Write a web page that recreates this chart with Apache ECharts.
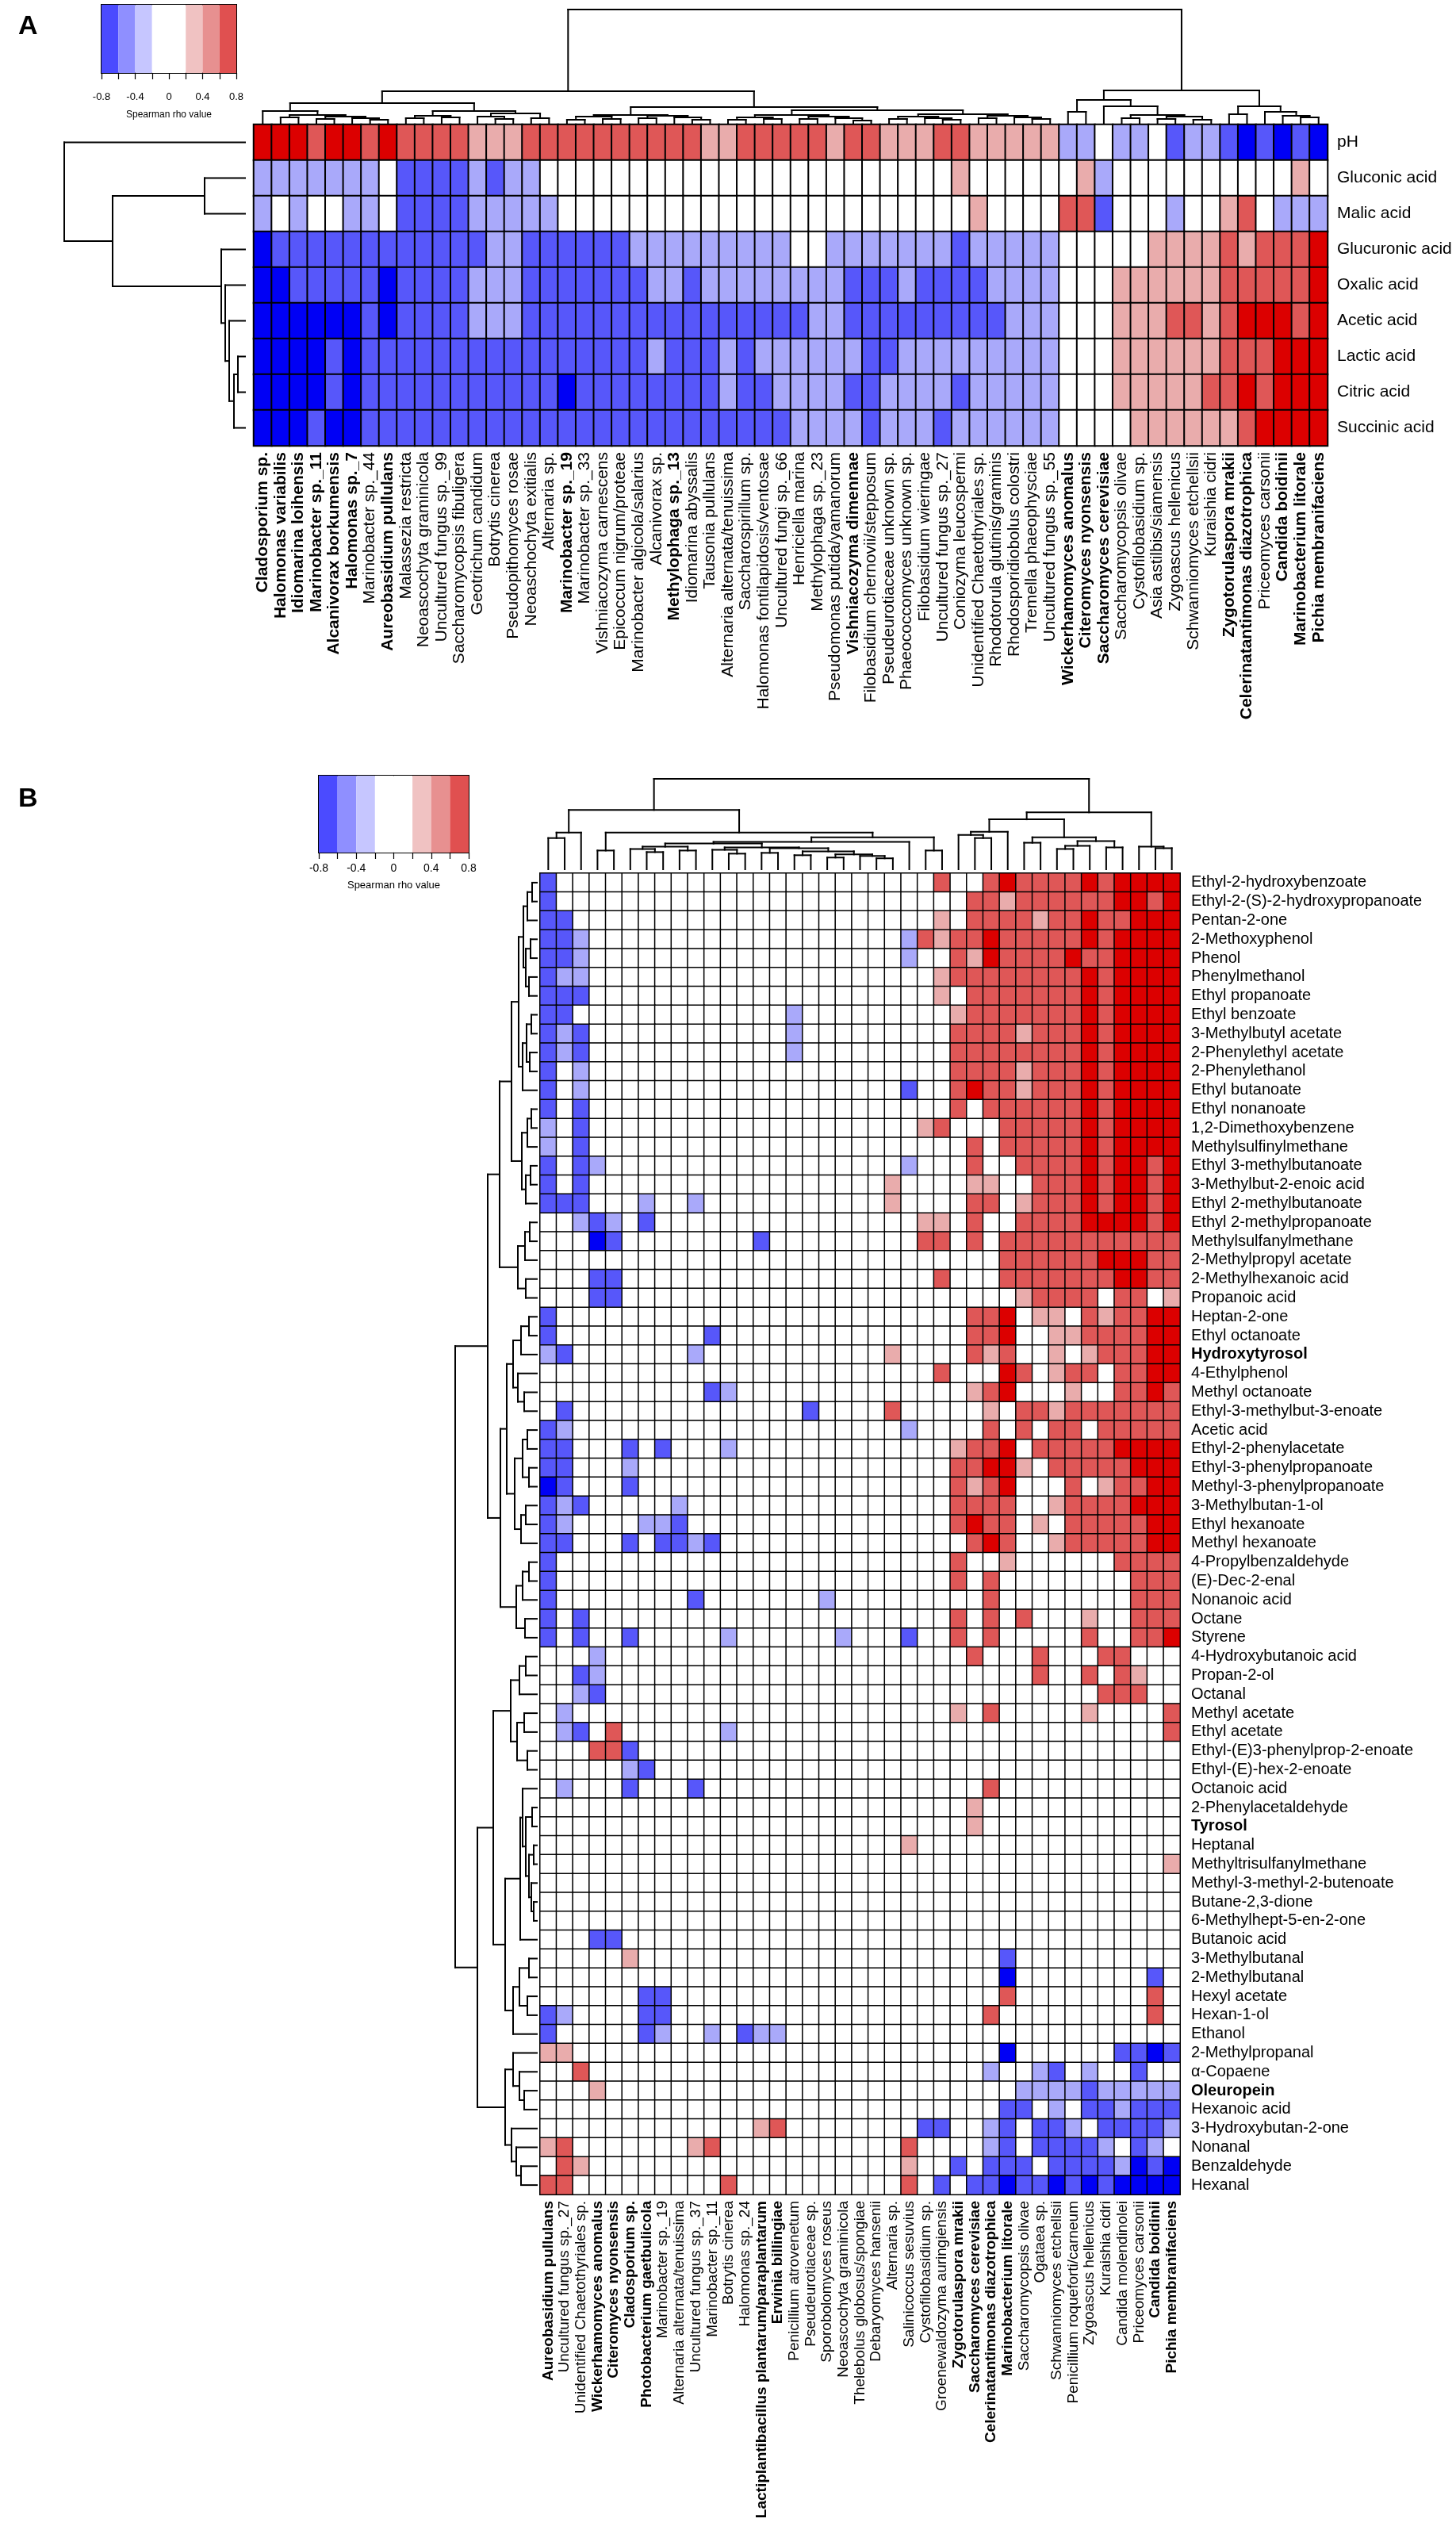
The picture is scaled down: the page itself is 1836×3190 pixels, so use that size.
<!DOCTYPE html>
<html>
<head>
<meta charset="utf-8">
<title>Spearman correlation heatmaps</title>
<script src="https://cdn.jsdelivr.net/npm/echarts@6/dist/echarts.min.js"></script>
<style>
  html, body { margin: 0; padding: 0; background: #fff; }
  #chart { width: 1836px; height: 3190px; }
</style>
</head>
<body>
<div id="chart"></div>
<script>
const FONT = 'Liberation Sans, Arial, Helvetica, sans-serif';

// --- Panel A: species (columns) x organic acids / pH (rows) ---
const speciesA = ['Cladosporium sp.', 'Halomonas variabilis', 'Idiomarina loihensis', 'Marinobacter sp._11', 'Alcanivorax borkumensis', 'Halomonas sp._7', 'Marinobacter sp._44', 'Aureobasidium pullulans', 'Malassezia restricta', 'Neoascochyta graminicola', 'Uncultured fungus sp._99', 'Saccharomycopsis fibuligera', 'Geotrichum candidum', 'Botrytis cinerea', 'Pseudopithomyces rosae', 'Neoaschochyta exitialis', 'Alternaria sp.', 'Marinobacter sp._19', 'Marinobacter sp._33', 'Vishniacozyma carnescens', 'Epicoccum nigrum/proteae', 'Marinobacter algicola/salarius', 'Alcanivorax sp.', 'Methylophaga sp._13', 'Idiomarina abyssalis', 'Tausonia pullulans', 'Alternaria alternata/tenuissima', 'Saccharospirillum sp.', 'Halomonas fontilapidosis/ventosae', 'Uncultured fungi sp._66', 'Henriciella marina', 'Methylophaga sp._23', 'Pseudomonas putida/yamanorum', 'Vishniacozyma dimennae', 'Filobasidium chernovii/stepposum', 'Pseudeurotiaceae unknown sp.', 'Phaeococcomyces unknown sp.', 'Filobasidium wieringae', 'Uncultured fungus sp._27', 'Coniozyma leucospermi', 'Unidentified Chaetothyriales sp.', 'Rhodotorula glutinis/graminis', 'Rhodosporidiobolus colostri', 'Tremella phaeophysciae', 'Uncultured fungus sp._55', 'Wickerhamomyces anomalus', 'Citeromyces nyonsensis', 'Saccharomyces cerevisiae', 'Saccharomycopsis olivae', 'Cystofilobasidium sp.', 'Asia astilbis/siamensis', 'Zygoascus hellenicus', 'Schwanniomyces etchellsii', 'Kuraishia cidri', 'Zygotorulaspora mrakii', 'Celerinatantimonas diazotrophica', 'Priceomyces carsonii', 'Candida boidinii', 'Marinobacterium litorale', 'Pichia membranifaciens'];
const boldA = ['Cladosporium sp.', 'Halomonas variabilis', 'Idiomarina loihensis', 'Marinobacter sp._11', 'Alcanivorax borkumensis', 'Halomonas sp._7', 'Aureobasidium pullulans', 'Marinobacter sp._19', 'Methylophaga sp._13', 'Vishniacozyma dimennae', 'Wickerhamomyces anomalus', 'Citeromyces nyonsensis', 'Saccharomyces cerevisiae', 'Zygotorulaspora mrakii', 'Celerinatantimonas diazotrophica', 'Candida boidinii', 'Marinobacterium litorale', 'Pichia membranifaciens'];
const acidsA = ['pH', 'Gluconic acid', 'Malic acid', 'Glucuronic acid', 'Oxalic acid', 'Acetic acid', 'Lactic acid', 'Citric acid', 'Succinic acid'];

// rho classes (groups of 10 columns)
const rhoLevels = { 'D': -0.7, 'B': -0.5, 'L': -0.3, '.': 0, 'p': 0.3, 'r': 0.5, 'R': 0.7 };
const rhoA = [
  'RRRrRRrRrr rrppprrrrr rrrrrpprrr rrprrppprr pppppLL.LL .BLLBDBDBD',
  'LLLLLLL.BB BBLBLL.... .......... .........p ......pL.. ........p.',
  'L.L..LL.BB BBLLLLL... .......... .......... p....rrB.. .L..pr.LLL',
  'DBBBBBBBBB BBBLLBBBBB BLLLLLLLLL ..LLLLLLLB LLLLL..... pppprprrrR',
  'DDBBBBBDBB BBLLLBBBBB BBLLBLLLLL LLLBBBLBBB BLLLL...pp pppprrrrrR',
  'DDDDDDBDBB BBLLLBBBBB BBBBBBBBBB BLLBBBBBBB BBLLL...pp prrprRRRrR',
  'DDDDBDBBBB BBBBBBBBBB BBLBBBLBLL LLLLBBLLLL LLLLL...pp pppprrrRRR',
  'DDDDBDBBBB BBBBBBBDBB BBBBBBLBBL LLLBBLLLLB LLLLL...pp ppprrRrRRR',
  'DDDBDDBBBB BBBBBBBBBB BBBBBBBBBB LLLLBLLLBL LLLLL....p ppppprRRRR'
];

// dendrograms: [height, left, right], leaves are indices
const treeColsA = [143,
  [40,
    [25,
      [15, 0, [10, [7, 1, 2], [8, [5, 3, 4], [6, 5, [4, 6, 7]]]]],
      [15, [9, [6, 8, 9], [7, 10, 11]], [12, [8, 12, [5, 13, 14]], [6, 15, 16]]]],
    [20,
      [10, [8, [4, 17, 18], [5, 19, 20]], [9, [6, 21, 22], [7, 23, [4, 24, 25]]]],
      [16,
        [10, [7, [4, 26, 27], [5, 28, 29]], [8, [5, 30, 31], [6, 32, [3, 33, 34]]]],
        [11, [8, [5, 35, 36], [6, 37, [4, 38, 39]]], [9, [6, 40, 41], [7, 42, [5, 43, 44]]]]]]],
  [41,
    [29, [14, 45, 46], [21, 47, [10, [6, 48, 49], [8, [5, 50, 51], [4, 52, 53]]]]],
    [21, [11, 54, 55], [14, 56, [9, 57, [7, 58, 59]]]]]];
const treeRowsA = [228, 0, [167, [51, 1, 2], [30, 3, [25, 4, [20, 5, [14, [9, 6, 7], 8]]]]]];

// --- Panel B: species (columns) x volatile compounds (rows) ---
const speciesB = ['Aureobasidium pullulans', 'Uncultured fungus sp._27', 'Unidentified Chaetothyriales sp.', 'Wickerhamomyces anomalus', 'Citeromyces nyonsensis', 'Cladosporium sp.', 'Photobacterium gaetbulicola', 'Marinobacter sp._19', 'Alternaria alternata/tenuissima', 'Uncultured fungus sp._37', 'Marinobacter sp._11', 'Botrytis cinerea', 'Halomonas sp._24', 'Lactiplantibacillus plantarum/paraplantarum', 'Erwinia billingiae', 'Penicillium atrovenetum', 'Pseudeurotiaceae sp.', 'Sporobolomyces roseus', 'Neoascochyta graminicola', 'Thelebolus globosus/spongiae', 'Debaryomyces hansenii', 'Alternaria sp.', 'Salinicoccus sesuvius', 'Cystofilobasidium sp.', 'Groenewaldozyma auringiensis', 'Zygotorulaspora mrakii', 'Saccharomyces cerevisiae', 'Celerinatantimonas diazotrophica', 'Marinobacterium litorale', 'Saccharomycopsis olivae', 'Ogataea sp.', 'Schwanniomyces etchellsii', 'Penicillium roqueforti/carneum', 'Zygoascus hellenicus', 'Kuraishia cidri', 'Candida molendinolei', 'Priceomyces carsonii', 'Candida boidinii', 'Pichia membranifaciens'];
const boldB = ['Aureobasidium pullulans', 'Wickerhamomyces anomalus', 'Citeromyces nyonsensis', 'Cladosporium sp.', 'Photobacterium gaetbulicola', 'Lactiplantibacillus plantarum/paraplantarum', 'Erwinia billingiae', 'Zygotorulaspora mrakii', 'Saccharomyces cerevisiae', 'Celerinatantimonas diazotrophica', 'Marinobacterium litorale', 'Candida boidinii', 'Pichia membranifaciens'];
const compoundsB = ['Ethyl-2-hydroxybenzoate', 'Ethyl-2-(S)-2-hydroxypropanoate', 'Pentan-2-one', '2-Methoxyphenol', 'Phenol', 'Phenylmethanol', 'Ethyl propanoate', 'Ethyl benzoate', '3-Methylbutyl acetate', '2-Phenylethyl acetate', '2-Phenylethanol', 'Ethyl butanoate', 'Ethyl nonanoate', '1,2-Dimethoxybenzene', 'Methylsulfinylmethane', 'Ethyl 3-methylbutanoate', '3-Methylbut-2-enoic acid', 'Ethyl 2-methylbutanoate', 'Ethyl 2-methylpropanoate', 'Methylsulfanylmethane', '2-Methylpropyl acetate', '2-Methylhexanoic acid', 'Propanoic acid', 'Heptan-2-one', 'Ethyl octanoate', 'Hydroxytyrosol', '4-Ethylphenol', 'Methyl octanoate', 'Ethyl-3-methylbut-3-enoate', 'Acetic acid', 'Ethyl-2-phenylacetate', 'Ethyl-3-phenylpropanoate', 'Methyl-3-phenylpropanoate', '3-Methylbutan-1-ol', 'Ethyl hexanoate', 'Methyl hexanoate', '4-Propylbenzaldehyde', '(E)-Dec-2-enal', 'Nonanoic acid', 'Octane', 'Styrene', '4-Hydroxybutanoic acid', 'Propan-2-ol', 'Octanal', 'Methyl acetate', 'Ethyl acetate', 'Ethyl-(E)3-phenylprop-2-enoate', 'Ethyl-(E)-hex-2-enoate', 'Octanoic acid', '2-Phenylacetaldehyde', 'Tyrosol', 'Heptanal', 'Methyltrisulfanylmethane', 'Methyl-3-methyl-2-butenoate', 'Butane-2,3-dione', '6-Methylhept-5-en-2-one', 'Butanoic acid', '3-Methylbutanal', '2-Methylbutanal', 'Hexyl acetate', 'Hexan-1-ol', 'Ethanol', '2-Methylpropanal', 'α-Copaene', 'Oleuropein', 'Hexanoic acid', '3-Hydroxybutan-2-one', 'Nonanal', 'Benzaldehyde', 'Hexanal'];
const boldCompounds = ['Hydroxytyrosol', 'Tyrosol', 'Oleuropein'];

const rhoB = [
  'B......... .......... ....r..rRr rrrRrRRRR',
  'B......... .......... ......rrpr rrrrrRRrR',
  'BB........ .......... ....p.rrrr prrRrrRRR',
  'BBL....... .......... ..LrprrRrr rrrRrRRRR',
  'BBL....... .......... ..L..rpRrr rrRrrRRRR',
  'BLL....... .......... ....prrrrr rrrRrRRRR',
  'BBB....... .......... ....p.rrrr rrrRrRRRR',
  'BB........ .....L.... .....prrrr rrrRrRRRR',
  'BLB....... .....L.... .....rrrrp rrrRrRRRR',
  'BLB....... .....L.... .....rrrrr rrrRrRRRR',
  'B.L....... .......... .....rrrrp rrrRrRRRR',
  'B.L....... .......... ..B..rRrrp rrrRrRRRR',
  'B.B....... .......... .....r.rrr rrrRrRRRR',
  'L.B....... .......... ...pr...rr rrrRrRRRR',
  'L.B....... .......... ......r.rr rrrRrRRRR',
  'B.BL...... .......... ..L...r..r rrrRrRRrR',
  'B.B....... .......... .p....pp.. rrrRrRRrR',
  'BBB...L..L .......... .p....rr.p rrrRrRRrR',
  '..LBL.B... .......... ...pp.r..r rrrRRRRrR',
  '...DB..... ...B...... ...rr.r.rr rrrrrrrrr',
  '.......... .......... ........rr rrrrRRRrr',
  '...BB..... .......... ....r...rr rrrrrRRrr',
  '...BB..... .......... .........p rrrr.rr.p',
  'B......... .......... ......rrR. pp.rprrRR',
  'B......... B......... ......rrR. .pprrrrRR',
  'LB.......L .......... .p....rpr. .p.prrrRR',
  '.......... .......... ....r...Rr .prr.rrRR',
  '.......... BL........ ......prR. ..p..rrRr',
  '.B........ ......B... .r.....p.r rprrrrrrr',
  'BL........ .......... ..L....r.r .rr.rrrrr',
  'BB...B.B.. .L........ .....prrR. rrrrrRRRR',
  'BB...L.... .......... .....rrRRp .rrrrrRRR',
  'DB...B.... .......... .....rprR. ..r.prrRR',
  'BLB.....L. .......... .....rrrr. .prrrrRRR',
  'BL....LLB. .......... .....rRrr. p.rrrrrRR',
  'BB...B.BBL B......... ......rRr. .prrrrrRR',
  'B......... .......... .....r..p. .....rrrr',
  'B......... .......... .....r.r.. ......rrr',
  'B........B .......L.. .......r.. ......rrr',
  'B.B....... .......... .....r.r.r ...p..rrr',
  'B.B..B.... .L......L. ..B..r.r.. ...r..rrR',
  '...L...... .......... ......r... r...rr...',
  '..BL...... .......... .......... r..r.rp..',
  '..LB...... .......... .......... ....rrr..',
  '.L........ .......... .....p.r.. ...p....r',
  '.LB.r..... .L........ .......... ........r',
  '...rrB.... .......... .......... .........',
  '.....LB... .......... .......... .........',
  '.L...B...B .......... .......r.. .........',
  '.......... .......... ......p... .........',
  '.......... .......... ......p... .........',
  '.......... .......... ..p....... .........',
  '.......... .......... .......... ........p',
  '.......... .......... .......... .........',
  '.......... .......... .......... .........',
  '.......... .......... .......... .........',
  '...BB..... .......... .......... .........',
  '.....p.... .......... ........B. .........',
  '.......... .......... ........D. .......B.',
  '......BB.. .......... ........r. .......r.',
  'BL....BB.. .......... .......r.. .......r.',
  'B.....BL.. L.BLL..... .......... .........',
  'pp........ .......... ........D. .....BBDB',
  '..r....... .......... .......L.. LB.L..B..',
  '...p...... .......... .........L LLLBLLLLL',
  '.......... .......... ........BB .L.BBLBBB',
  '.......... ...pr..... ...BB..LB. BBL.BBBBL',
  'pr.......p r......... ..r....LB. BBBBL.BL.',
  '.rp....... .......... ..p..B.BBB .BBBBLDBD',
  'rr........ .r........ ..r.B.BBDB BDBDBDDDD'
];

const treeColsB = [116,
  [76,
    [47, [40, 0, 1], 2],
    [47, [24, 3, 4],
      [41,
        [35,
          [33,
            [29, [26, 5, [22, 6, 7]], [24, 8, 9]],
            [28, [25, 10, [20, 11, 12]], [27, [21, 13, 14], [23, [18, 15, 16], [19, [15, 17, 18], [17, 19, [14, 20, 21]]]]]]],
          22],
        [24, 23, 24]]]],
  [73,
    [64,
      [48, [44, 25, [40, 26, 27]], 28],
      [41, [34, 29, 30], [36, [30, [26, 31, 32], 33], [28, 34, 35]]]],
    [29, 36, [27, 37, 38]]]];

const treeRowsB = [103,
  [62,
    [47,
      [32,
        [23, [17, [12, [6, 0, 1], 2], [14, [8, 3, 4], [10, 5, 6]]], [18, [13, [7, 7, 8], [9, 9, 10]], 11]],
        [19, [12, [7, 12, 13], 14], [14, [8, 15, 16], 17]]],
      [24, [15, [9, 18, 19], 20], [14, 21, 22]]],
    [46,
      [38,
        [30, [20, [10, 23, 24], 25], [24, 26, [16, 27, 28]]],
        [28, [18, [12, 29, 30], [10, 31, 32]], [20, [14, 33, 34], 35]]],
      [26, [18, [10, 36, 37], 38], [15, 39, 40]]]],
  [75,
    [55,
      [33, [22, [14, 41, 42], 43], [25, [16, 44, 45], [12, 46, 47]]],
      [40,
        [21, [18, 48, [14, [6, 49, 50], [10, [4, 51, 52], [7, 53, [4, 54, 55]]]]], 56],
        [30, [22, [10, 57, 58], [12, 59, 60]], 61]]],
    [40, [30, 62, [22, 63, [16, 64, 65]]], [32, 66, [26, 67, [20, 68, 69]]]]]];

// --- Colour key ---
const legendBreaks = [-0.8, -0.6, -0.4, -0.2, 0, 0.2, 0.4, 0.6, 0.8];
const legendColors = ['#4b4bff', '#8f8fff', '#c6c6ff', '#ffffff', '#ffffff', '#f0c2c2', '#e79090', '#e05050'];

// --- Helpers ---
const decodeRow = (row) => row.replace(/ /g, '').split('').map(ch => rhoLevels[ch]);

const heatData = (rows, nCols) => rows.flatMap((row, r) => {
  const vals = decodeRow(row);
  if (vals.length !== nCols) console.error('row', r, 'has', vals.length, 'cells');
  return vals.map((v, c) => [c, r, v]);
});

// one [x1, y1, x2, y2] segment per dendrogram stroke
const dendroSegments = (tree, sideways) => {
  const segs = [];
  const walk = (node) => {
    if (typeof node === 'number') return { pos: node, h: 0 };
    const [h, a, b] = node;
    const l = walk(a);
    const r = walk(b);
    segs.push([l.pos, l.h, l.pos, h], [l.pos, h, r.pos, h], [r.pos, r.h, r.pos, h]);
    return { pos: (l.pos + r.pos) / 2, h };
  };
  walk(tree);
  return sideways ? segs.map(([p1, h1, p2, h2]) => [h1, p1, h2, p2]) : segs;
};

const renderSegment = (params, api) => {
  const a = api.coord([api.value(0), api.value(1)]);
  const b = api.coord([api.value(2), api.value(3)]);
  return {
    type: 'line',
    shape: { x1: a[0], y1: a[1], x2: b[0], y2: b[1] },
    style: { stroke: '#000', lineWidth: 2, lineCap: 'square' }
  };
};

const renderLegendCell = (params, api) => {
  const a = api.coord([api.value(0), 0]);
  const b = api.coord([api.value(1), 1]);
  return {
    type: 'rect',
    shape: { x: a[0], y: b[1], width: b[0] - a[0], height: a[1] - b[1] },
    style: { fill: legendColors[api.value(2)] }
  };
};

const legendData = legendColors.map((c, i) => [legendBreaks[i], legendBreaks[i + 1], i]);

const boldFormatter = (bold) => (v) => bold.includes(v) ? `{b|${v}}` : v;

const labelStyle = (size, bold, extra) => Object.assign({
  interval: 0,
  fontSize: size,
  color: '#000',
  fontFamily: FONT,
  formatter: boldFormatter(bold),
  rich: { b: { fontWeight: 'bold', fontSize: size, fontFamily: FONT, color: '#000' } }
}, extra);

const hidden = { show: false };

const legendAxis = (gridIndex, labelSize, nameSize, margin, nameGap) => ({
  gridIndex, type: 'value', min: -0.8, max: 0.8, interval: 0.2,
  axisLine: { show: true, lineStyle: { color: '#000', width: 2 } },
  axisTick: { show: true, length: 8, lineStyle: { color: '#000', width: 1.2 } },
  splitLine: hidden,
  axisLabel: {
    margin, fontSize: labelSize, color: '#000', fontFamily: FONT,
    formatter: (v) => {
      const t = Math.round(v * 10);
      if (t % 4 !== 0) return '';
      return t === 0 ? '0' : (t / 10).toFixed(1);
    }
  },
  name: 'Spearman rho value', nameLocation: 'middle', nameGap,
  nameTextStyle: { fontSize: nameSize, color: '#000', fontFamily: FONT }
});

// --- Chart ---
const chart = echarts.init(document.getElementById('chart'), null, { renderer: 'canvas' });

const option = {
  backgroundColor: '#ffffff',
  animation: false,
  title: [
    { text: 'A', left: 18, top: 12, textStyle: { fontSize: 34, fontWeight: 'bold', fontFamily: FONT, color: '#000' } },
    { text: 'B', left: 18, top: 986, textStyle: { fontSize: 34, fontWeight: 'bold', fontFamily: FONT, color: '#000' } }
  ],
  grid: [
    { left: 320, top: 10, width: 1354, height: 145 },
    { left: 320, top: 157, width: 1354, height: 405 },
    { left: 81, top: 157, width: 228, height: 405 },
    { left: 128, top: 6, width: 170, height: 86, show: true, borderColor: '#000', borderWidth: 2, backgroundColor: 'transparent' },
    { left: 681, top: 982, width: 807, height: 114 },
    { left: 681, top: 1101, width: 807, height: 1666 },
    { left: 567, top: 1101, width: 110, height: 1666 },
    { left: 402, top: 978, width: 189, height: 97, show: true, borderColor: '#000', borderWidth: 2, backgroundColor: 'transparent' }
  ],
  xAxis: [
    { gridIndex: 0, type: 'value', min: -0.5, max: speciesA.length - 0.5, show: false },
    {
      gridIndex: 1, type: 'category', data: speciesA, position: 'bottom',
      axisLine: hidden, axisTick: hidden, splitLine: hidden,
      axisLabel: labelStyle(21, boldA, { rotate: 90, margin: 8 })
    },
    { gridIndex: 2, type: 'value', min: 0, max: 228, inverse: true, show: false },
    legendAxis(3, 13, 12, 24, 47),
    { gridIndex: 4, type: 'value', min: -0.5, max: speciesB.length - 0.5, show: false },
    {
      gridIndex: 5, type: 'category', data: speciesB, position: 'bottom',
      axisLine: hidden, axisTick: hidden, splitLine: hidden,
      axisLabel: labelStyle(19, boldB, { rotate: 90, margin: 8 })
    },
    { gridIndex: 6, type: 'value', min: 0, max: 110, inverse: true, show: false },
    legendAxis(7, 14, 13, 13, 35)
  ],
  yAxis: [
    { gridIndex: 0, type: 'value', min: 0, max: 145, show: false },
    {
      gridIndex: 1, type: 'category', data: acidsA, inverse: true, position: 'right',
      axisLine: hidden, axisTick: hidden, splitLine: hidden,
      axisLabel: labelStyle(21, [], { margin: 12 })
    },
    { gridIndex: 2, type: 'value', min: -0.5, max: acidsA.length - 0.5, inverse: true, show: false },
    { gridIndex: 3, type: 'value', min: 0, max: 1, show: false },
    { gridIndex: 4, type: 'value', min: 0, max: 116, show: false },
    {
      gridIndex: 5, type: 'category', data: compoundsB, inverse: true, position: 'right',
      axisLine: hidden, axisTick: hidden, splitLine: hidden,
      axisLabel: labelStyle(20, boldCompounds, { margin: 14 })
    },
    { gridIndex: 6, type: 'value', min: -0.5, max: compoundsB.length - 0.5, inverse: true, show: false },
    { gridIndex: 7, type: 'value', min: 0, max: 1, show: false }
  ],
  visualMap: [{
    type: 'piecewise', show: false, dimension: 2, seriesIndex: [1, 5],
    pieces: [
      { lt: -0.6, color: '#0000f5' },
      { gte: -0.6, lt: -0.4, color: '#5757fa' },
      { gte: -0.4, lt: -0.2, color: '#a9a9fa' },
      { gte: -0.2, lte: 0.2, color: '#ffffff' },
      { gt: 0.2, lte: 0.4, color: '#e9acac' },
      { gt: 0.4, lte: 0.6, color: '#df5757' },
      { gt: 0.6, color: '#dc0000' }
    ]
  }],
  series: [
    {
      type: 'custom', xAxisIndex: 0, yAxisIndex: 0, silent: true,
      encode: { x: [0, 2], y: [1, 3] },
      renderItem: renderSegment, data: dendroSegments(treeColsA, false)
    },
    {
      type: 'heatmap', xAxisIndex: 1, yAxisIndex: 1, silent: true, progressive: 0,
      itemStyle: { borderColor: '#000', borderWidth: 2 },
      data: heatData(rhoA, speciesA.length)
    },
    {
      type: 'custom', xAxisIndex: 2, yAxisIndex: 2, silent: true,
      encode: { x: [0, 2], y: [1, 3] },
      renderItem: renderSegment, data: dendroSegments(treeRowsA, true)
    },
    {
      type: 'custom', xAxisIndex: 3, yAxisIndex: 3, silent: true,
      encode: { x: [0, 1] },
      renderItem: renderLegendCell, data: legendData, z: 1
    },
    {
      type: 'custom', xAxisIndex: 4, yAxisIndex: 4, silent: true,
      encode: { x: [0, 2], y: [1, 3] },
      renderItem: renderSegment, data: dendroSegments(treeColsB, false)
    },
    {
      type: 'heatmap', xAxisIndex: 5, yAxisIndex: 5, silent: true, progressive: 0,
      itemStyle: { borderColor: '#000', borderWidth: 1.5 },
      data: heatData(rhoB, speciesB.length)
    },
    {
      type: 'custom', xAxisIndex: 6, yAxisIndex: 6, silent: true,
      encode: { x: [0, 2], y: [1, 3] },
      renderItem: renderSegment, data: dendroSegments(treeRowsB, true)
    },
    {
      type: 'custom', xAxisIndex: 7, yAxisIndex: 7, silent: true,
      encode: { x: [0, 1] },
      renderItem: renderLegendCell, data: legendData, z: 1
    }
  ]
};

chart.setOption(option);
</script>
</body>
</html>
